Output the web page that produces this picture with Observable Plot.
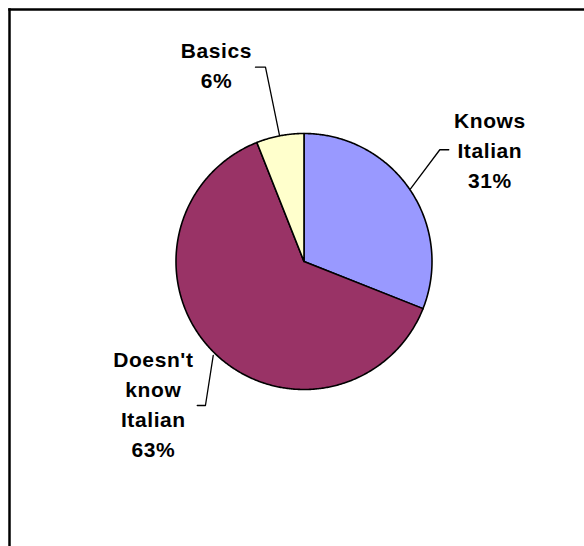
<!DOCTYPE html>
<html>
<head>
<meta charset="utf-8">
<script src="https://cdn.jsdelivr.net/npm/d3@7"></script>
<script src="https://cdn.jsdelivr.net/npm/@observablehq/plot@0.6"></script>
<style>
  html, body { margin: 0; padding: 0; background: #fff; }
  svg text { letter-spacing: 0.6px; }
</style>
</head>
<body>
<div id="chart"></div>
<script>
// --- data ---
const categories = ["Knows Italian", "Doesn't know Italian", "Basics"];
const shares = [31, 63, 6];
const labelTexts = ["Knows\nItalian\n31%", "Doesn't\nknow\nItalian\n63%", "Basics\n6%"];
const colors = ["#9999FF", "#993366", "#FFFFCC"];

// --- layout (chart units; pie radius = 1) ---
const labelPos = [[1.452, 0.886], [-1.177, -1.098], [-0.684, 1.551]];
const leaderPaths = [
  [[1.131, 0.873], [1.061, 0.873], [0.832, 0.568]],
  [[-0.834, -1.125], [-0.770, -1.125], [-0.709, -0.734]],
  [[-0.379, 1.518], [-0.301, 1.518], [-0.191, 0.984]]
];

const data = categories.map((c, i) => ({category: c, value: shares[i]}));
const arcs = d3.pie().sort(null).value(d => d.value)(data);

// slice outlines as closed polygons, angles from top, clockwise
const slicePts = [];
arcs.forEach(a => {
  const cat = a.data.category;
  slicePts.push({category: cat, x: 0, y: 0});
  const n = Math.max(2, Math.ceil((a.endAngle - a.startAngle) / (Math.PI / 360)));
  for (let k = 0; k <= n; k++) {
    const t = a.startAngle + (a.endAngle - a.startAngle) * k / n;
    slicePts.push({category: cat, x: Math.sin(t), y: Math.cos(t)});
  }
});

const labels = categories.map((c, i) => ({category: c, text: labelTexts[i], x: labelPos[i][0], y: labelPos[i][1]}));
const leaders = [];
categories.forEach((c, i) => leaderPaths[i].forEach(p => leaders.push({category: c, x: p[0], y: p[1]})));

const cx = 303.5, cy = 261, r = 128;

const chart = Plot.plot({
  width: 584,
  height: 546,
  marginLeft: 9,
  marginTop: 9,
  marginRight: 0,
  marginBottom: 0,
  x: {domain: [-1, 1], range: [cx - r, cx + r], axis: null},
  y: {domain: [-1, 1], range: [cy + r, cy - r], axis: null},
  color: {domain: categories, range: colors},
  style: {fontFamily: "'Liberation Sans', Arial, sans-serif", background: "white"},
  marks: [
    Plot.frame({anchor: "left", stroke: "black", strokeWidth: 2.5}),
    Plot.frame({anchor: "top", stroke: "black", strokeWidth: 2.5}),
    Plot.line(slicePts, {x: "x", y: "y", z: "category", fill: "category", stroke: "black", strokeWidth: 1.6, curve: "linear-closed", strokeLinejoin: "round"}),
    Plot.line(leaders, {x: "x", y: "y", z: "category", stroke: "black", strokeWidth: 1.3}),
    Plot.text(labels, {x: "x", y: "y", text: "text", fontSize: 21, fontWeight: "bold", fill: "black", lineHeight: 1.43, lineAnchor: "middle", textAnchor: "middle"})
  ]
});
document.getElementById("chart").appendChild(chart);
</script>
</body>
</html>
